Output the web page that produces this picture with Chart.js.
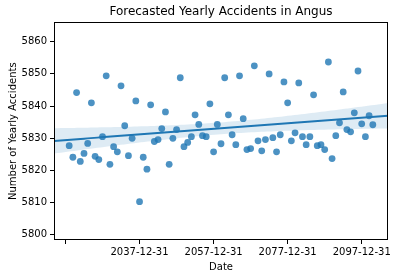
<!DOCTYPE html>
<html>
<head>
<meta charset="utf-8">
<script src="https://cdn.jsdelivr.net/npm/chart.js@4.4.0/dist/chart.umd.min.js"></script>
<style>
html, body { margin: 0; padding: 0; background: #fff; }
</style>
</head>
<body>
<canvas id="myChart" width="398" height="278"></canvas>
<script>
// year of each "YYYY-12-31" forecast date
const years = [
    2018, 2019, 2020, 2021, 2022, 2023, 2024, 2025, 2026, 2027,
    2028, 2029, 2030, 2031, 2032, 2033, 2034, 2035, 2036, 2037,
    2038, 2039, 2040, 2041, 2042, 2043, 2044, 2045, 2046, 2047,
    2048, 2049, 2050, 2051, 2052, 2053, 2054, 2055, 2056, 2057,
    2058, 2059, 2060, 2061, 2062, 2063, 2064, 2065, 2066, 2067,
    2068, 2069, 2070, 2071, 2072, 2073, 2074, 2075, 2076, 2077,
    2078, 2079, 2080, 2081, 2082, 2083, 2084, 2085, 2086, 2087,
    2088, 2089, 2090, 2091, 2092, 2093, 2094, 2095, 2096, 2097,
    2098, 2099, 2100
];
const accidents = [
    5827.7, 5824.1, 5844.2, 5822.8, 5825.3, 5828.4, 5841.0, 5824.4, 5823.4, 5830.5,
    5849.4, 5821.9, 5827.4, 5825.8, 5846.3, 5833.9, 5824.6, 5830.0, 5841.6, 5810.3,
    5824.1, 5820.4, 5840.4, 5829.0, 5829.6, 5833.0, 5838.2, 5821.9, 5830.0, 5832.7,
    5848.8, 5827.4, 5828.7, 5830.5, 5837.3, 5834.3, 5830.8, 5830.5, 5840.7, 5825.8,
    5834.3, 5828.3, 5848.8, 5837.3, 5831.1, 5828.0, 5849.4, 5836.1, 5826.5, 5826.8,
    5852.5, 5829.2, 5826.1, 5829.6, 5850.0, 5830.2, 5825.8, 5831.1, 5847.5, 5841.0,
    5829.2, 5831.7, 5847.2, 5830.5, 5828.0, 5830.5, 5843.5, 5827.7, 5828.0, 5826.5,
    5853.7, 5823.7, 5830.8, 5834.8, 5844.4, 5832.7, 5832.0, 5837.9, 5850.9, 5834.5,
    5830.5, 5837.0, 5834.2
];
const xTicks = [2017, 2037, 2057, 2077, 2097];
const xTickLabels = ['', '2037-12-31', '2057-12-31', '2077-12-31', '2097-12-31'];
const yTicks = [5800, 5810, 5820, 5830, 5840, 5850, 5860];

const X_MIN = 2013.9, X_MAX = 2104.1;
const Y_MIN = 5798.4, Y_MAX = 5866;

// least squares fit + 95% confidence band (like seaborn regplot)
const n = years.length;
const xMean = years.reduce((a, b) => a + b, 0) / n;
const yMean = accidents.reduce((a, b) => a + b, 0) / n;
let sxx = 0, sxy = 0;
for (let i = 0; i < n; i++) {
    sxx += (years[i] - xMean) * (years[i] - xMean);
    sxy += (years[i] - xMean) * (accidents[i] - yMean);
}
const slope = sxy / sxx;
const intercept = yMean - slope * xMean;
let sse = 0;
for (let i = 0; i < n; i++) {
    const r = accidents[i] - (intercept + slope * years[i]);
    sse += r * r;
}
const s = Math.sqrt(sse / (n - 2));
const tCrit = 1.99;

const fitLine = [], bandLow = [], bandHigh = [];
const steps = 100;
for (let k = 0; k <= steps; k++) {
    const x = X_MIN + (X_MAX - X_MIN) * k / steps;
    const yHat = intercept + slope * x;
    const half = tCrit * s * Math.sqrt(1 / n + (x - xMean) * (x - xMean) / sxx);
    fitLine.push({x: x, y: yHat});
    bandLow.push({x: x, y: yHat - half});
    bandHigh.push({x: x, y: yHat + half});
}

const points = years.map((yr, i) => ({x: yr, y: accidents[i]}));

const frame = {
    id: 'frame',
    afterDraw(chart) {
        const a = chart.chartArea;
        const ctx = chart.ctx;
        ctx.save();
        ctx.strokeStyle = '#000';
        ctx.lineWidth = 1;
        ctx.strokeRect(Math.round(a.left) + 0.5, Math.round(a.top) + 0.5,
            Math.round(a.right - a.left) - 1, Math.round(a.bottom - a.top) - 1);
        ctx.restore();
    }
};

const font = {family: 'DejaVu Sans', size: 10};

new Chart(document.getElementById('myChart').getContext('2d'), {
    type: 'scatter',
    data: {
        datasets: [
            {
                data: points,
                backgroundColor: 'rgba(31, 119, 180, 0.8)',
                borderWidth: 0,
                pointRadius: 3.4,
                order: 3
            },
            {
                data: bandLow,
                showLine: true,
                pointRadius: 0,
                borderWidth: 0,
                borderColor: 'rgba(0,0,0,0)',
                fill: false,
                order: 2
            },
            {
                data: bandHigh,
                showLine: true,
                pointRadius: 0,
                borderWidth: 0,
                borderColor: 'rgba(0,0,0,0)',
                backgroundColor: 'rgba(31, 119, 180, 0.15)',
                fill: 1,
                order: 2
            },
            {
                data: fitLine,
                showLine: true,
                pointRadius: 0,
                borderColor: '#1f77b4',
                borderWidth: 2,
                order: 1
            }
        ]
    },
    options: {
        responsive: false,
        animation: false,
        devicePixelRatio: 1,
        layout: {padding: {left: 0, right: 10, top: 0, bottom: 0}},
        plugins: {
            legend: {display: false},
            tooltip: {enabled: false},
            title: {
                display: true,
                fullSize: false,
                text: 'Forecasted Yearly Accidents in Angus',
                color: '#000',
                font: {family: 'DejaVu Sans', size: 12, weight: 'normal'},
                padding: {top: 5, bottom: 3}
            }
        },
        scales: {
            x: {
                type: 'linear',
                min: X_MIN,
                max: X_MAX,
                afterBuildTicks: (axis) => { axis.ticks = xTicks.map(v => ({value: v})); },
                afterFit: (axis) => { axis.height = 38; },
                grid: {drawOnChartArea: false, color: '#000', tickLength: 4},
                border: {display: false},
                ticks: {
                    color: '#000',
                    font: font,
                    padding: 2,
                    maxRotation: 0,
                    autoSkip: false,
                    callback: (v) => xTickLabels[xTicks.indexOf(v)]
                },
                title: {display: true, text: 'Date', color: '#000', font: font, padding: {top: 0, bottom: 5}}
            },
            y: {
                min: Y_MIN,
                max: Y_MAX,
                afterBuildTicks: (axis) => { axis.ticks = yTicks.map(v => ({value: v})); },
                afterFit: (axis) => { axis.width = 54; },
                grid: {drawOnChartArea: false, color: '#000', tickLength: 4},
                border: {display: false},
                ticks: {color: '#000', font: font, padding: 3, autoSkip: false, callback: (v) => String(v)},
                title: {display: true, text: 'Number of Yearly Accidents', color: '#000', font: font, padding: {top: 7, bottom: 0}}
            }
        }
    },
    plugins: [frame]
});
</script>
</body>
</html>
